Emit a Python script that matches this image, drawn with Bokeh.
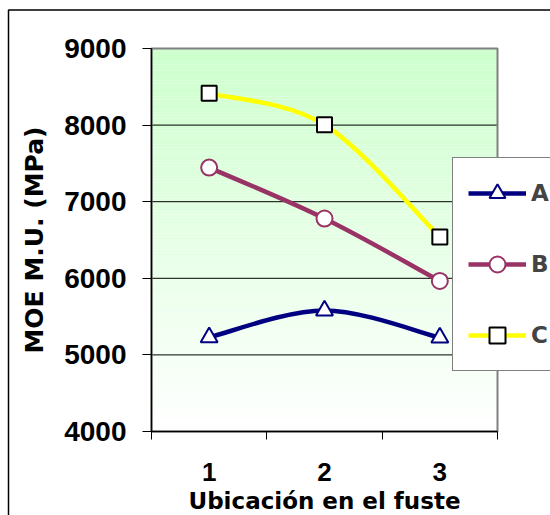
from bokeh.plotting import figure
from bokeh.models import (FixedTicker, Legend, LegendItem,
                          ColumnDataSource, Range1d)
from bokeh.embed import file_html
from bokeh.resources import INLINE

# ---- data -------------------------------------------------------------
positions = [1, 2, 3]                      # Ubicación en el fuste
position_labels = ["1", "2", "3"]
series_names = ["A", "B", "C"]
moe_a = [5230, 5580, 5225]                 # MOE M.U. (MPa)
moe_b = [7445, 6780, 5965]
moe_c = [8415, 8005, 6540]
y_ticks = [4000, 5000, 6000, 7000, 8000, 9000]

# ---- page geometry (pixels) --------------------------------------------
W, H = 550, 515
AREA_L, AREA_R, AREA_T, AREA_B = 151, 497, 48, 431   # plot area box on the canvas


def smooth_segments(xs, ys):
    """Cubic Bezier pieces through every point (Catmull-Rom tangents, clamped ends)."""
    n = len(xs)
    seg = dict(x0=[], y0=[], x1=[], y1=[], cx0=[], cy0=[], cx1=[], cy1=[])
    for i in range(n - 1):
        ip, inn = max(i - 1, 0), min(i + 2, n - 1)
        seg["x0"].append(xs[i]); seg["y0"].append(ys[i])
        seg["x1"].append(xs[i + 1]); seg["y1"].append(ys[i + 1])
        seg["cx0"].append(xs[i] + (xs[i + 1] - xs[ip]) / 6)
        seg["cy0"].append(ys[i] + (ys[i + 1] - ys[ip]) / 6)
        seg["cx1"].append(xs[i + 1] - (xs[inn] - xs[i]) / 6)
        seg["cy1"].append(ys[i + 1] - (ys[inn] - ys[i]) / 6)
    return ColumnDataSource(seg)


x_lo, x_hi = positions[0] - 0.5, positions[-1] + 0.5
y_lo, y_hi = y_ticks[0], y_ticks[-1]

# The frame spans the whole canvas so the legend and chart border can sit
# anywhere; the axes are pinned to the plot-area edges.
kx = (AREA_R - AREA_L) / (x_hi - x_lo)
ky = (AREA_B - AREA_T) / (y_hi - y_lo)


def px_x(px):
    return x_lo + (px - AREA_L) / kx


def px_y(py):
    return y_hi - (py - AREA_T) / ky


p = figure(width=W, height=H, output_backend="svg", toolbar_location=None,
           x_range=Range1d(px_x(0), px_x(W)), y_range=Range1d(px_y(H), px_y(0)),
           min_border=0, min_border_left=0, min_border_right=0,
           min_border_top=0, min_border_bottom=0)
p.background_fill_color = "white"
p.border_fill_color = "white"
p.outline_line_color = None
p.xgrid.visible = False
p.ygrid.visible = False

# vertical light-green to white wash behind the plot area
bands = 120
top_rgb = (204, 255, 204)
bot, top, col = [], [], []
for k in range(bands):
    bot.append(y_lo + (y_hi - y_lo) * k / bands)
    top.append(y_lo + (y_hi - y_lo) * (k + 1) / bands)
    t = (k + 0.5) / bands
    r, g, b = (round(255 + (c - 255) * t) for c in top_rgb)
    col.append("#%02x%02x%02x" % (r, g, b))
p.quad(left=x_lo, right=x_hi, bottom=bot, top=top, fill_color=col,
       line_color=None, level="image")

# horizontal grid lines
inner = y_ticks[1:-1]
p.segment(x0=x_lo, x1=x_hi, y0=inner, y1=inner, line_color="black",
          line_width=1, level="underlay")

# plot-area border
p.quad(left=x_lo, right=x_hi, bottom=y_lo, top=y_hi, fill_color=None,
       line_color="#808080", line_width=2, level="underlay")

# outer chart border (runs past the right and bottom edges of the page)
p.quad(left=px_x(8), right=px_x(W + 40), top=px_y(9.5), bottom=px_y(H + 40),
       fill_color=None, line_color="black", line_width=1.5, level="underlay")

# axes, pinned to the plot area
p.yaxis.fixed_location = x_lo
p.yaxis.bounds = (y_lo, y_hi)
p.yaxis.ticker = FixedTicker(ticks=y_ticks)
p.yaxis.major_tick_out = 9
p.yaxis.major_tick_in = 0
p.yaxis.minor_tick_line_color = None
p.yaxis.major_label_standoff = 16
p.yaxis.major_label_text_font = "Liberation Sans"
p.yaxis.major_label_text_font_style = "bold"
p.yaxis.major_label_text_font_size = "28px"
p.yaxis.axis_label = "MOE M.U. (MPa)"
p.yaxis.axis_label_standoff = 12

bounds = [x - 0.5 for x in positions] + [positions[-1] + 0.5]
p.xaxis.fixed_location = y_lo
p.xaxis.bounds = (x_lo, x_hi)
p.xaxis.ticker = FixedTicker(ticks=positions, minor_ticks=bounds)
p.xaxis.major_label_overrides = dict(zip(positions, position_labels))
p.xaxis.major_tick_out = 0
p.xaxis.major_tick_in = 0
p.xaxis.minor_tick_out = 8
p.xaxis.minor_tick_in = 0
p.xaxis.minor_tick_line_color = "black"
p.xaxis.major_label_standoff = 23
p.xaxis.major_label_text_font = "Liberation Sans"
p.xaxis.major_label_text_font_style = "bold"
p.xaxis.major_label_text_font_size = "26px"
p.xaxis.axis_label = "Ubicación en el fuste"
p.xaxis.axis_label_standoff = 4

for ax, size in ((p.yaxis, "25px"), (p.xaxis, "23px")):
    ax.axis_line_color = "black"
    ax.axis_line_width = 1.5
    ax.major_tick_line_color = "black"
    ax.axis_label_text_font = "DejaVu Sans"
    ax.axis_label_text_font_style = "bold"
    ax.axis_label_text_font_size = size
    ax.axis_label_text_color = "black"
    ax.major_label_text_color = "black"

# series
styles = [
    dict(values=moe_a, color="#000080", marker="triangle", edge="#000080", size=17),
    dict(values=moe_b, color="#993366", marker="circle", edge="#993366", size=16),
    dict(values=moe_c, color="#FFFF00", marker="square", edge="black", size=15),
]
items = []
for name, st in zip(series_names, styles):
    curve = p.bezier(x0="x0", y0="y0", x1="x1", y1="y1", cx0="cx0", cy0="cy0",
                     cx1="cx1", cy1="cy1", source=smooth_segments(positions, st["values"]),
                     line_color=st["color"], line_width=4.5)
    dots = p.scatter(positions, st["values"], marker=st["marker"], size=st["size"],
                     fill_color="white", line_color=st["edge"], line_width=2)
    items.append(LegendItem(label=name, renderers=[curve, dots]))

legend = Legend(items=items, location=(452, H - 371), orientation="vertical",
                glyph_width=58, glyph_height=40, label_height=40, spacing=31,
                padding=15, margin=0, label_standoff=5,
                border_line_color="black", border_line_width=1.2,
                background_fill_color="white", background_fill_alpha=1,
                label_text_font="DejaVu Sans", label_text_font_style="bold",
                label_text_font_size="23px")
p.add_layout(legend)

open("out.html", "w").write(file_html(p, INLINE))
